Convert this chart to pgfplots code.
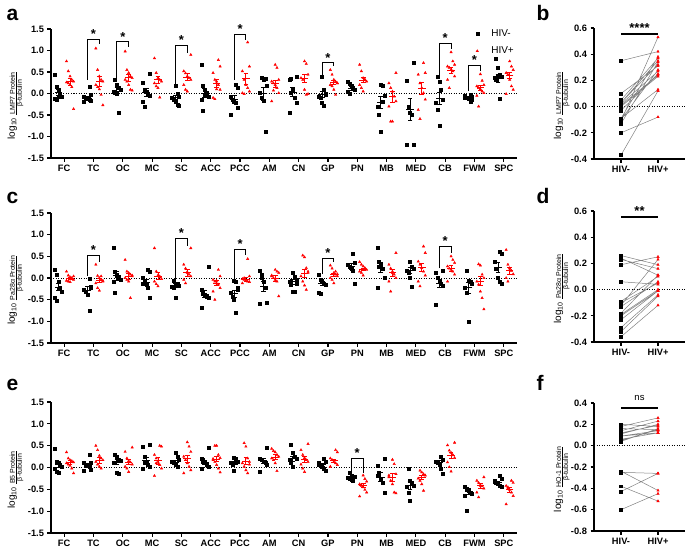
\documentclass[border=0pt]{standalone}
\usepackage{fontspec}
\setmainfont{Liberation Sans}
\usepackage{pgfplots}
\usepackage{pgfplotstable}
\pgfplotsset{compat=1.18}

\newcommand\ylab[1]{\llap{\fontsize{10}{12}\selectfont log\textsubscript{10}\hspace{3pt}}{\fontsize{7}{8}\selectfont\begin{tabular}[t]{@{}c@{}}\underline{#1}\\[-1pt]β-tubulin\end{tabular}}}

% ---------------- panel a data ----------------
\pgfplotstableread{
c y
0 0.44
0 0.15
0 0.09
0 0.00
0 -0.07
0 -0.11
0 -0.14
0 -0.08
1 0.15
1 -0.03
1 -0.07
1 -0.10
1 -0.13
1 -0.14
1 -0.16
1 -0.18
2 0.31
2 0.20
2 0.13
2 0.09
2 0.05
2 0.03
2 0.00
2 -0.45
3 0.45
3 0.25
3 0.10
3 0.05
3 0.00
3 -0.05
3 -0.20
3 -0.30
4 0.18
4 0.00
4 -0.07
4 -0.10
4 -0.14
4 -0.20
4 -0.25
4 -0.28
5 0.67
5 0.17
5 0.09
5 0.01
5 -0.07
5 -0.14
5 -0.40
5 -0.03
6 0.20
6 0.13
6 -0.07
6 -0.14
6 -0.18
6 -0.22
6 -0.34
6 -0.50
7 0.36
7 0.32
7 0.34
7 0.17
7 0.01
7 -0.10
7 -0.17
7 -0.88
8 0.40
8 0.32
8 0.34
8 0.09
8 -0.10
8 -0.22
8 -0.45
8 0.01
9 0.38
9 0.09
9 -0.03
9 -0.07
9 -0.10
9 -0.22
9 -0.28
9 -0.01
10 0.28
10 0.23
10 0.17
10 0.13
10 0.09
10 0.05
10 0.00
11 0.20
11 0.17
11 -0.05
11 -0.30
11 -0.50
11 -0.88
11 -0.18
12 0.72
12 0.30
12 -0.31
12 -0.45
12 -0.50
12 -1.20
12 -1.20
13 0.40
13 0.28
13 0.09
13 -0.14
13 -0.22
13 -0.38
13 -0.74
14 -0.03
14 -0.07
14 -0.09
14 -0.10
14 -0.13
14 -0.18
14 -0.14
14 -0.05
15 0.82
15 0.60
15 0.44
15 0.40
15 0.36
15 0.32
15 0.38
15 -0.13
}\aK
\pgfplotstableread{
c y
0 0.75
0 0.52
0 0.40
0 0.32
0 0.28
0 0.26
0 0.24
0 0.20
0 0.15
0 -0.36
1 1.05
1 0.55
1 0.40
1 0.32
1 0.28
1 0.20
1 0.15
1 0.10
1 -0.03
1 -0.27
2 0.98
2 0.55
2 0.48
2 0.40
2 0.36
2 0.32
2 0.28
2 0.20
2 0.09
2 0.07
3 0.82
3 0.48
3 0.36
3 0.32
3 0.28
3 0.24
3 0.17
3 0.13
3 -0.09
4 0.90
4 0.52
4 0.47
4 0.40
4 0.36
4 0.32
4 0.20
4 0.09
4 0.05
5 0.78
5 0.63
5 0.48
5 0.32
5 0.28
5 0.20
5 0.09
5 -0.10
5 -0.13
5 0.10
6 1.19
6 0.63
6 0.52
6 0.32
6 0.20
6 0.13
6 0.05
6 0.01
6 -0.01
7 0.67
7 0.60
7 0.32
7 0.28
7 0.24
7 0.20
7 0.13
7 0.01
7 -0.18
7 0.07
8 0.75
8 0.69
8 0.44
8 0.36
8 0.32
8 0.09
8 -0.03
8 -0.01
9 0.55
9 0.44
9 0.32
9 0.28
9 0.24
9 0.20
9 0.17
9 0.09
9 -0.03
9 0.24
10 0.67
10 0.52
10 0.36
10 0.32
10 0.28
10 0.20
10 0.13
10 0.05
10 0.32
11 0.48
11 0.24
11 0.13
11 0.05
11 -0.07
11 -0.18
11 -0.30
11 -0.65
11 -0.65
12 0.71
12 0.48
12 0.44
12 0.24
12 0.13
12 0.01
12 -0.14
12 -0.38
12 -0.59
13 0.96
13 0.75
13 0.67
13 0.63
13 0.60
13 0.55
13 0.52
13 0.40
13 0.32
13 0.13
14 0.45
14 0.30
14 0.20
14 0.17
14 0.13
14 0.10
14 0.05
14 0.01
14 -0.05
14 -0.30
15 0.75
15 0.63
15 0.55
15 0.48
15 0.44
15 0.32
15 0.17
15 0.09
15 -0.01
}\aR
\pgfplotstableread{
c mb sb mr sr
0 0.02 0.07 0.27 0.09
1 -0.10 0.04 0.28 0.11
2 0.05 0.08 0.37 0.08
3 0.03 0.09 0.32 0.08
4 -0.09 0.05 0.38 0.08
5 0.01 0.11 0.24 0.09
6 -0.13 0.08 0.34 0.13
7 0.00 0.15 0.23 0.08
8 0.03 0.11 0.35 0.10
9 -0.03 0.07 0.25 0.05
10 0.12 0.04 0.31 0.06
11 -0.20 0.14 -0.08 0.13
12 -0.37 0.26 0.12 0.14
13 -0.11 0.14 0.53 0.07
14 -0.09 0.02 0.13 0.06
15 0.35 0.10 0.42 0.08
}\aM
% ---------------- panel c data ----------------
\pgfplotstableread{
c y
0 0.19
0 0.08
0 -0.08
0 -0.22
0 -0.31
0 -0.46
0 -0.52
0 -0.25
1 -0.02
1 -0.23
1 -0.27
1 -0.31
1 -0.38
1 -0.75
1 -0.20
2 0.69
2 0.15
2 0.05
2 0.00
2 -0.04
2 -0.08
2 -0.33
2 0.08
3 0.19
3 0.14
3 0.00
3 -0.08
3 -0.15
3 -0.23
3 -0.46
3 -0.12
4 -0.06
4 -0.12
4 -0.15
4 -0.17
4 -0.19
4 -0.23
4 -0.45
4 -0.14
5 0.27
5 -0.27
5 -0.35
5 -0.38
5 -0.42
5 -0.46
5 -0.68
5 -0.37
6 -0.06
6 -0.08
6 -0.23
6 -0.35
6 -0.42
6 -0.50
6 -0.79
6 -0.27
7 0.17
7 0.08
7 -0.08
7 -0.22
7 -0.58
7 -0.60
7 0.00
8 0.12
8 0.04
8 -0.04
8 -0.08
8 -0.15
8 -0.31
8 -0.32
8 -0.12
9 0.08
9 -0.04
9 -0.08
9 -0.12
9 -0.15
9 -0.35
9 -0.37
9 -0.06
10 0.55
10 0.35
10 0.31
10 0.27
10 0.22
10 0.17
10 -0.12
11 0.71
11 0.38
11 0.31
11 0.22
11 0.00
11 -0.22
11 0.25
12 0.38
12 0.27
12 0.22
12 0.17
12 0.12
12 0.00
12 -0.19
13 0.17
13 0.12
13 0.00
13 -0.08
13 -0.12
13 -0.17
13 -0.62
14 0.17
14 -0.06
14 -0.08
14 -0.12
14 -0.23
14 -0.35
14 -1.00
15 0.60
15 0.55
15 0.38
15 0.22
15 0.00
15 -0.08
15 -0.12
}\cK
\pgfplotstableread{
c y
0 0.15
0 0.06
0 0.02
0 -0.02
0 -0.04
0 -0.06
0 -0.08
0 -0.09
0 0.00
0 0.04
1 0.31
1 0.05
1 0.00
1 -0.04
1 -0.08
1 -0.12
1 -0.23
1 -0.29
1 0.04
1 -0.06
2 0.42
2 0.15
2 0.12
2 0.08
2 0.04
2 0.00
2 -0.04
2 -0.08
2 -0.46
2 0.06
3 0.69
3 0.15
3 0.06
3 0.02
3 -0.02
3 -0.08
3 -0.14
3 -0.19
3 0.04
4 0.69
4 0.31
4 0.22
4 0.14
4 0.08
4 0.04
4 -0.04
4 -0.12
4 0.12
5 0.19
5 0.04
5 -0.04
5 -0.08
5 -0.12
5 -0.15
5 -0.23
5 -0.31
5 -0.50
5 -0.06
6 0.44
6 0.04
6 -0.02
6 -0.04
6 -0.06
6 -0.08
6 -0.09
6 -0.12
6 0.00
7 0.19
7 0.15
7 0.12
7 0.06
7 0.00
7 -0.04
7 -0.08
7 -0.42
7 0.04
8 0.52
8 0.48
8 0.23
8 0.12
8 0.04
8 -0.08
8 -0.17
8 -0.27
8 0.15
9 0.29
9 0.22
9 0.12
9 0.08
9 0.04
9 0.00
9 -0.04
9 -0.12
9 0.15
9 0.09
10 0.37
10 0.31
10 0.27
10 0.23
10 0.19
10 0.15
10 0.12
10 0.06
10 0.22
11 0.58
11 0.31
11 0.22
11 0.15
11 0.08
11 0.00
11 -0.08
11 -0.31
11 0.12
12 0.73
12 0.58
12 0.38
12 0.31
12 0.23
12 0.15
12 0.06
12 -0.08
12 -0.19
13 0.50
13 0.42
13 0.35
13 0.27
13 0.22
13 0.19
13 0.15
13 0.08
13 -0.08
14 0.32
14 0.29
14 0.08
14 0.00
14 -0.08
14 -0.15
14 -0.31
14 -0.46
14 -0.72
15 0.65
15 0.31
15 0.23
15 0.17
15 0.09
15 0.00
15 -0.08
15 0.19
}\cR
\pgfplotstableread{
c mb sb mr sr
0 -0.21 0.08 -0.01 0.02
1 -0.28 0.08 -0.05 0.05
2 0.05 0.10 0.03 0.07
3 -0.11 0.07 0.04 0.08
4 -0.17 0.04 0.12 0.08
5 -0.37 0.09 -0.12 0.06
6 -0.36 0.08 -0.04 0.05
7 -0.19 0.12 -0.01 0.06
8 -0.09 0.06 0.11 0.09
9 -0.12 0.05 0.07 0.04
10 0.26 0.07 0.20 0.03
11 0.24 0.11 0.12 0.08
12 0.17 0.07 0.24 0.10
13 -0.12 0.09 0.22 0.06
14 -0.23 0.13 -0.07 0.11
15 0.24 0.11 0.17 0.08
}\cM
% ---------------- panel e data ----------------
\pgfplotstableread{
c y
0 0.42
0 0.13
0 0.10
0 0.06
0 0.02
0 -0.03
0 -0.10
0 -0.13
1 0.29
1 0.12
1 0.10
1 0.07
1 0.06
1 0.02
1 -0.06
1 -0.08
2 0.30
2 0.25
2 0.17
2 0.15
2 0.12
2 0.10
2 -0.12
2 -0.15
3 0.53
3 0.48
3 0.25
3 0.13
3 0.06
3 0.02
3 -0.02
3 0.10
4 0.33
4 0.25
4 0.17
4 0.13
4 0.10
4 0.06
4 0.02
5 0.46
5 0.21
5 0.13
5 0.10
5 0.06
5 0.02
5 -0.02
5 0.17
6 0.22
6 0.20
6 0.13
6 0.10
6 0.06
6 -0.08
6 0.12
7 0.46
7 0.21
7 0.17
7 0.13
7 0.11
7 0.07
7 -0.10
8 0.52
8 0.35
8 0.25
8 0.21
8 0.17
8 0.10
8 0.02
9 0.21
9 0.13
9 0.10
9 0.06
9 0.02
9 -0.03
9 -0.08
9 0.07
10 -0.12
10 -0.18
10 -0.20
10 -0.22
10 -0.24
10 -0.26
10 -0.28
10 -0.30
11 0.21
11 0.05
11 -0.11
11 -0.26
11 -0.34
11 -0.58
11 -0.18
12 -0.02
12 -0.30
12 -0.34
12 -0.42
12 -0.45
12 -0.57
12 -0.76
13 0.24
13 0.18
13 0.14
13 0.11
13 0.06
13 -0.03
13 -0.15
14 -0.45
14 -0.49
14 -0.53
14 -0.57
14 -0.61
14 -0.65
14 -0.98
14 -0.50
15 -0.18
15 -0.25
15 -0.30
15 -0.34
15 -0.38
15 -0.42
15 -0.45
15 -0.32
}\eK
\pgfplotstableread{
c y
0 0.35
0 0.21
0 0.17
0 0.15
0 0.12
0 0.10
0 0.07
0 0.04
0 -0.02
0 -0.13
1 0.50
1 0.40
1 0.27
1 0.21
1 0.17
1 0.13
1 0.07
1 0.02
1 -0.02
2 0.46
2 0.36
2 0.21
2 0.15
2 0.12
2 0.07
2 0.02
2 -0.02
2 -0.10
3 0.50
3 0.48
3 0.29
3 0.21
3 0.13
3 0.06
3 -0.02
3 -0.19
3 0.10
4 0.58
4 0.48
4 0.36
4 0.25
4 0.17
4 0.10
4 0.02
4 -0.06
4 -0.13
5 0.50
5 0.50
5 0.29
5 0.22
5 0.17
5 0.13
5 0.06
5 -0.02
5 -0.11
5 0.20
6 0.56
6 0.48
6 0.21
6 0.13
6 0.10
6 0.02
6 -0.06
6 -0.13
6 0.07
7 0.43
7 0.38
7 0.35
7 0.29
7 0.25
7 0.21
7 0.17
7 0.10
7 -0.08
8 0.54
8 0.40
8 0.29
8 0.22
8 0.17
8 0.13
8 0.07
8 -0.02
8 -0.10
9 0.40
9 0.35
9 0.21
9 0.17
9 0.13
9 0.10
9 0.06
9 0.02
9 0.17
10 -0.18
10 -0.26
10 -0.32
10 -0.38
10 -0.42
10 -0.45
10 -0.51
10 -0.57
10 -0.66
10 -0.40
11 0.18
11 0.08
11 -0.15
11 -0.22
11 -0.30
11 -0.38
11 -0.57
11 -0.59
11 -0.18
12 -0.07
12 -0.11
12 -0.15
12 -0.18
12 -0.25
12 -0.30
12 -0.38
12 -0.53
13 0.57
13 0.51
13 0.39
13 0.34
13 0.28
13 0.22
13 0.12
13 0.01
13 -0.09
13 0.29
14 -0.22
14 -0.30
14 -0.35
14 -0.40
14 -0.43
14 -0.48
14 -0.57
14 -0.68
14 -0.42
15 -0.30
15 -0.35
15 -0.42
15 -0.45
15 -0.51
15 -0.57
15 -0.65
15 -0.84
15 -0.48
}\eR
\pgfplotstableread{
c mb sb mr sr
0 0.06 0.06 0.12 0.04
1 0.05 0.04 0.16 0.06
2 0.12 0.06 0.12 0.06
3 0.16 0.08 0.15 0.07
4 0.12 0.04 0.20 0.08
5 0.12 0.05 0.19 0.06
6 0.11 0.04 0.14 0.08
7 0.15 0.06 0.24 0.05
8 0.20 0.06 0.19 0.07
9 0.06 0.03 0.15 0.04
10 -0.23 0.02 -0.41 0.04
11 -0.22 0.10 -0.22 0.09
12 -0.41 0.09 -0.23 0.05
13 0.11 0.05 0.27 0.07
14 -0.56 0.06 -0.42 0.05
15 -0.34 0.03 -0.51 0.05
}\eM
% ---------------- paired panels ----------------
\pgfplotstableread{
x y
0 0.02
1 0.27
nan nan
0 -0.10
1 0.28
nan nan
0 0.05
1 0.37
nan nan
0 0.03
1 0.32
nan nan
0 -0.09
1 0.38
nan nan
0 0.01
1 0.24
nan nan
0 -0.13
1 0.34
nan nan
0 0.00
1 0.23
nan nan
0 0.03
1 0.35
nan nan
0 -0.03
1 0.25
nan nan
0 0.10
1 0.31
nan nan
0 -0.20
1 -0.08
nan nan
0 -0.37
1 0.12
nan nan
0 -0.11
1 0.53
nan nan
0 -0.09
1 0.13
nan nan
0 0.35
1 0.42
}\bP
\pgfplotstableread{
x y
0 -0.19
1 0.00
nan nan
0 -0.29
1 -0.04
nan nan
0 0.06
1 0.04
nan nan
0 -0.10
1 0.05
nan nan
0 -0.18
1 0.11
nan nan
0 -0.36
1 -0.12
nan nan
0 -0.32
1 -0.05
nan nan
0 -0.20
1 -0.01
nan nan
0 -0.09
1 0.10
nan nan
0 -0.13
1 0.06
nan nan
0 0.26
1 0.19
nan nan
0 0.24
1 0.11
nan nan
0 0.19
1 0.25
nan nan
0 -0.12
1 0.23
nan nan
0 -0.23
1 -0.01
nan nan
0 0.23
1 0.16
}\dP
\pgfplotstableread{
x y
0 0.06
1 0.12
nan nan
0 0.04
1 0.16
nan nan
0 0.09
1 0.12
nan nan
0 0.16
1 0.15
nan nan
0 0.11
1 0.20
nan nan
0 0.12
1 0.19
nan nan
0 0.09
1 0.14
nan nan
0 0.14
1 0.23
nan nan
0 0.20
1 0.18
nan nan
0 0.05
1 0.15
nan nan
0 -0.24
1 -0.42
nan nan
0 -0.25
1 -0.26
nan nan
0 -0.43
1 -0.26
nan nan
0 0.18
1 0.26
nan nan
0 -0.60
1 -0.45
nan nan
0 -0.38
1 -0.52
}\fP

\pgfplotsset{
  gp/.style={scale only axis, clip=false,
    axis x line*=bottom, axis y line*=left,
    axis line style={-, line width=1.1pt},
    tick align=outside, major tick length=3.5pt,
    tick style={line width=1.1pt, black},
    ticklabel style={font=\fontsize{9.3}{10}\selectfont\bfseries},
    yticklabel style={/pgf/number format/.cd, fixed, fixed zerofill, precision=1, assume math mode=true},
  },
  big/.style={gp, width=466pt, xmin=-0.45, xmax=15.45, ymin=-1.5, ymax=1.5,
    ytick={-1.5,-1,-0.5,0,0.5,1,1.5},
    xtick={0,...,15}, xticklabels={FC,TC,OC,MC,SC,ACC,PCC,AM,CN,GP,PN,MB,MED,CB,FWM,SPC},
    ylabel style={at={(axis description cs:-0.075,0.5)}, anchor=center}},
  pair/.style={gp, width=91pt, xmin=-0.73, xmax=1.73,
    xtick={0,1}, xticklabels={HIV-,HIV+},
    ylabel style={at={(axis description cs:-0.35,0.5)}, anchor=center}},
  blk/.style={only marks, mark=square*, mark size=1.5pt, black},
  rdp/.style={only marks, mark=triangle*, mark size=1.4pt, red},
  mn/.style={only marks, mark=-, mark size=3.8pt, mark options={line width=1pt},
    error bars/y dir=both, error bars/y explicit,
    error bars/error bar style={line width=0.9pt},
    error bars/error mark options={rotate=90, mark size=2.4pt, line width=0.9pt}},
  zl/.style={black, line width=0.8pt, dash pattern=on 1pt off 1.5pt, forget plot},
  brk/.style={black, line width=1pt, forget plot},
}
\newcommand\sig[2]{\node[anchor=base, font=\fontsize{13}{13}\selectfont\bfseries] at (axis cs:#1,#2) {*};}

\begin{document}
\begin{tikzpicture}
\useasboundingbox (0,0) rectangle (685pt,-549pt);
\tikzset{lt/.style={anchor=base west, font=\fontsize{21}{22}\selectfont\bfseries}}
\node[lt] at (3pt,-20pt) {a};
\node[lt] at (533pt,-20pt) {b};
\node[lt] at (3pt,-203pt) {c};
\node[lt] at (533pt,-203pt) {d};
\node[lt] at (3pt,-390pt) {e};
\node[lt] at (533pt,-390pt) {f};

% ================= a =================
\begin{axis}[big, at={(51pt,-158pt)}, anchor=south west, height=129pt,
  ylabel={\ylab{LMP7 Protein}},
  legend image code/.code={\draw[#1] plot coordinates {(2pt,0pt)}; \path[draw=none] (0pt,0pt) -- (14pt,0pt);},
  legend style={at={(axis cs:14.02,1.54)}, anchor=north west, draw=none, fill=none,
    font=\fontsize{10}{11}\selectfont, row sep=5pt, inner sep=0pt},
  legend cell align=left]
\addplot[blk] table[x expr={\thisrow{c}-0.32+0.06*mod(\coordindex,5)}, y=y]{\aK};
\addlegendentry{HIV-}
\addplot[rdp] table[x expr={\thisrow{c}+0.08+0.06*mod(\coordindex,5)}, y=y]{\aR};
\addlegendentry{HIV+}
\addplot[zl] coordinates {(-0.45,0) (15.45,0)};
\addplot[forget plot, black, mn] table[x expr=\thisrow{c}-0.2, y=mb, y error=sb]{\aM};
\addplot[forget plot, red, mn] table[x expr=\thisrow{c}+0.2, y=mr, y error=sr]{\aM};
\addplot[brk] coordinates {(0.8,0.32) (0.8,1.25) (1.2,1.25) (1.2,1.15)};
\addplot[brk] coordinates {(1.8,0.36) (1.8,1.2) (2.2,1.2) (2.2,1.08)};
\addplot[brk] coordinates {(3.8,0.15) (3.8,1.12) (4.2,1.12) (4.2,0.94)};
\addplot[brk] coordinates {(5.8,0.32) (5.8,1.38) (6.2,1.38) (6.2,1.25)};
\addplot[brk] coordinates {(8.8,0.36) (8.8,0.71) (9.2,0.71) (9.2,0.63)};
\addplot[brk] coordinates {(12.8,0.44) (12.8,1.17) (13.2,1.17) (13.2,1.03)};
\addplot[brk] coordinates {(13.8,0.05) (13.8,0.65) (14.2,0.65) (14.2,0.52)};
\sig{1}{1.27}
\sig{2}{1.22}
\sig{4}{1.14}
\sig{6}{1.40}
\sig{9}{0.73}
\sig{13}{1.19}
\sig{14}{0.67}
\end{axis}

% ================= b =================
\begin{axis}[pair, at={(594pt,-159pt)}, anchor=south west, height=131pt,
  ymin=-0.4, ymax=0.6, ytick={-0.4,-0.2,0,0.2,0.4,0.6},
  ylabel={\ylab{LMP7 Protein}}]
\addplot[zl] coordinates {(-0.73,0) (1.73,0)};
\addplot[gray, line width=0.5pt, unbounded coords=jump] table[x=x,y=y]{\bP};
\addplot[blk, mark size=1.4pt, restrict x to domain=-0.1:0.1] table[x=x,y=y]{\bP};
\addplot[rdp, mark size=1.4pt, restrict x to domain=0.9:1.1] table[x=x,y=y]{\bP};
\addplot[black, line width=2pt] coordinates {(0,0.556) (1,0.556)};
\node[anchor=base, font=\fontsize{13}{13}\selectfont\bfseries] at (axis cs:0.5,0.565) {****};
\end{axis}

% ================= c =================
\begin{axis}[big, at={(51pt,-343pt)}, anchor=south west, height=130pt,
  ylabel={\ylab{Pa28α Protein}}]
\addplot[blk] table[x expr={\thisrow{c}-0.32+0.06*mod(\coordindex,5)}, y=y]{\cK};
\addplot[rdp] table[x expr={\thisrow{c}+0.08+0.06*mod(\coordindex,5)}, y=y]{\cR};
\addplot[zl] coordinates {(-0.45,0) (15.45,0)};
\addplot[black, mn] table[x expr=\thisrow{c}-0.2, y=mb, y error=sb]{\cM};
\addplot[red, mn] table[x expr=\thisrow{c}+0.2, y=mr, y error=sr]{\cM};
\addplot[brk] coordinates {(0.8,0.04) (0.8,0.52) (1.2,0.52) (1.2,0.38)};
\addplot[brk] coordinates {(3.8,-0.04) (3.8,0.91) (4.2,0.91) (4.2,0.75)};
\addplot[brk] coordinates {(5.8,-0.02) (5.8,0.65) (6.2,0.65) (6.2,0.52)};
\addplot[brk] coordinates {(8.8,0.09) (8.8,0.46) (9.2,0.46) (9.2,0.38)};
\addplot[brk] coordinates {(12.8,0.22) (12.8,0.73) (13.2,0.73) (13.2,0.58)};
\sig{1}{0.54}
\sig{4}{0.93}
\sig{6}{0.67}
\sig{9}{0.48}
\sig{13}{0.75}
\end{axis}

% ================= d =================
\begin{axis}[pair, at={(594pt,-342pt)}, anchor=south west, height=131pt,
  ymin=-0.4, ymax=0.6, ytick={-0.4,-0.2,0,0.2,0.4,0.6},
  ylabel={\ylab{Pa28α Protein}}]
\addplot[zl] coordinates {(-0.73,0) (1.73,0)};
\addplot[gray, line width=0.5pt, unbounded coords=jump] table[x=x,y=y]{\dP};
\addplot[blk, mark size=1.4pt, restrict x to domain=-0.1:0.1] table[x=x,y=y]{\dP};
\addplot[rdp, mark size=1.4pt, restrict x to domain=0.9:1.1] table[x=x,y=y]{\dP};
\addplot[black, line width=2pt] coordinates {(0,0.552) (1,0.552)};
\node[anchor=base, font=\fontsize{13}{13}\selectfont\bfseries] at (axis cs:0.5,0.562) {**};
\end{axis}

% ================= e =================
\begin{axis}[big, at={(51pt,-533pt)}, anchor=south west, height=131pt,
  ylabel={\ylab{B5 Protein}}]
\addplot[blk] table[x expr={\thisrow{c}-0.32+0.06*mod(\coordindex,5)}, y=y]{\eK};
\addplot[rdp] table[x expr={\thisrow{c}+0.08+0.06*mod(\coordindex,5)}, y=y]{\eR};
\addplot[zl] coordinates {(-0.45,0) (15.45,0)};
\addplot[black, mn] table[x expr=\thisrow{c}-0.2, y=mb, y error=sb]{\eM};
\addplot[red, mn] table[x expr=\thisrow{c}+0.2, y=mr, y error=sr]{\eM};
\addplot[brk] coordinates {(9.8,-0.10) (9.8,0.21) (10.2,0.21) (10.2,-0.12)};
\sig{10}{0.23}
\end{axis}

% ================= f =================
\begin{axis}[pair, at={(594pt,-531pt)}, anchor=south west, height=128pt,
  ymin=-0.8, ymax=0.4, ytick={-0.8,-0.6,-0.4,-0.2,0,0.2,0.4},
  ylabel={\ylab{HO-1 Protein}}]
\addplot[zl] coordinates {(-0.73,0) (1.73,0)};
\addplot[gray, line width=0.5pt, unbounded coords=jump] table[x=x,y=y]{\fP};
\addplot[blk, mark size=1.4pt, restrict x to domain=-0.1:0.1] table[x=x,y=y]{\fP};
\addplot[rdp, mark size=1.4pt, restrict x to domain=0.9:1.1] table[x=x,y=y]{\fP};
\addplot[black, line width=2pt] coordinates {(0,0.353) (1,0.353)};
\node[anchor=base, font=\fontsize{9.5}{10}\selectfont] at (axis cs:0.5,0.42) {ns};
\end{axis}
\end{tikzpicture}
\end{document}
